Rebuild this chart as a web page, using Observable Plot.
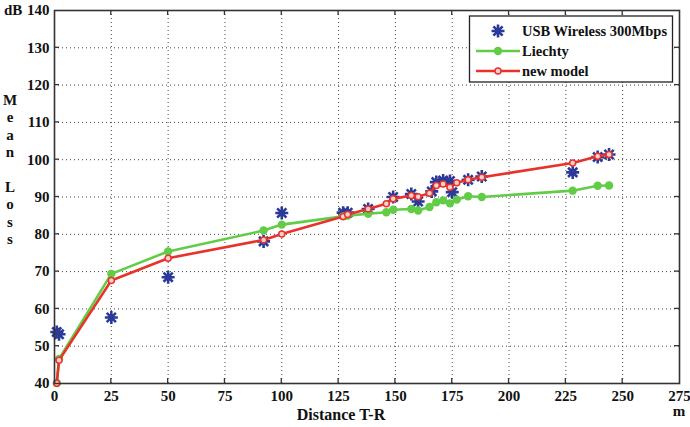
<!DOCTYPE html>
<html><head><meta charset="utf-8">
<script src="https://cdn.jsdelivr.net/npm/d3@7"></script>
<script src="https://cdn.jsdelivr.net/npm/@observablehq/plot@0.6"></script>
<style>body{margin:0;background:#fff}#chart{width:690px;height:427px}</style>
</head><body><div id="chart"></div>
<script>
// ---- data ----
const modelDistance = [1, 2, 25, 50, 92, 100, 127, 129, 138, 146, 149, 157, 160, 165, 168, 171, 174, 177, 182, 188, 228, 239, 244];
const liechtyLoss   = [40.1, 46.6, 69.4, 75.4, 81.0, 82.6, 84.8, 85.0, 85.5, 85.9, 86.6, 86.8, 86.4, 87.3, 88.6, 89.1, 88.3, 89.3, 90.2, 90.0, 91.7, 93.0, 93.1];
const newModelLoss  = [40.1, 46.2, 67.6, 73.6, 78.5, 80.1, 84.8, 85.3, 86.8, 88.2, 89.5, 90.4, 90.1, 91.0, 93.1, 93.5, 92.6, 93.8, 94.6, 95.3, 99.1, 100.9, 101.4];
const measuredDistance = [1, 2, 25, 50, 92, 100, 127, 129, 138, 149, 157, 160, 166, 168, 171, 174, 175, 182, 188, 228, 239, 244];
const measuredLoss     = [53.8, 53.2, 57.7, 68.5, 78.1, 85.7, 85.8, 85.8, 86.8, 90.0, 90.8, 88.8, 91.5, 94.0, 94.4, 94.3, 91.3, 94.6, 95.5, 96.6, 100.7, 101.4];
const xTicks = [0, 25, 50, 75, 100, 125, 150, 175, 200, 225, 250, 275];
const yTicks = [40, 50, 60, 70, 80, 90, 100, 110, 120, 130, 140];
const seriesNames = ["USB Wireless 300Mbps", "Liechty", "new model"];
const xLabel = "Distance T-R", xUnit = "m", yLabel = "Mean Loss", yUnit = "dB";

const blue = "#2b3a98", green = "#62cc47", red = "#e8322a";
const font = "Liberation Serif, Times New Roman, serif";

const model = modelDistance.map((d, i) => ({d, liechty: liechtyLoss[i], newModel: newModelLoss[i]}));
const measured = measuredDistance.map((d, i) => ({d, loss: measuredLoss[i]}));

const asterisk = {draw(ctx, size) {
  const r = Math.sqrt(size / Math.PI), q = r * Math.SQRT1_2;
  ctx.moveTo(-r, 0); ctx.lineTo(r, 0);
  ctx.moveTo(0, -r); ctx.lineTo(0, r);
  ctx.moveTo(-q, -q); ctx.lineTo(q, q);
  ctx.moveTo(-q, q); ctx.lineTo(q, -q);
}};

const gridStyle = {stroke: "#444", strokeOpacity: 1, strokeWidth: 1, strokeDasharray: "1,3"};

const plot = Plot.plot({
  width: 690, height: 427,
  marginLeft: 54, marginRight: 11, marginTop: 10, marginBottom: 44,
  style: {fontFamily: font, background: "white", overflow: "visible"},
  x: {domain: [0, 275]},
  y: {domain: [40, 140]},
  marks: [
    Plot.gridX(xTicks.slice(1, -1), gridStyle),
    Plot.gridY(yTicks.slice(1, -1), gridStyle),
    Plot.axisX(xTicks, {tickSize: 0, tickPadding: 7, fontSize: 15, fontWeight: "bold", fill: "#111", label: null, fontFamily: font}),
    Plot.axisY(yTicks, {tickSize: 0, tickPadding: 5, fontSize: 15, fontWeight: "bold", fill: "#111", label: null, fontFamily: font}),
    Plot.dot(measured, {x: "d", y: "loss", symbol: asterisk, r: 6.5, stroke: blue, strokeWidth: 2.6, fill: "none"}),
    Plot.line(model, {x: "d", y: "liechty", stroke: green, strokeWidth: 2.6}),
    Plot.dot(model, {x: "d", y: "liechty", r: 4.2, fill: green, stroke: "none"}),
    Plot.line(model, {x: "d", y: "newModel", stroke: red, strokeWidth: 2.6}),
    Plot.dot(model, {x: "d", y: "newModel", r: 3, stroke: red, strokeWidth: 1.5, fill: "#f6d2cf"}),
    Plot.frame({stroke: "#333", strokeWidth: 1.6})
  ]
});
document.getElementById("chart").appendChild(plot);

const svg = d3.select(plot);
const sx = plot.scale("x"), sy = plot.scale("y");
const X = v => sx.apply(v), Y = v => sy.apply(v);
const x0 = X(0), x1 = X(275), y0 = Y(40), y1 = Y(140);
const g = svg.append("g").attr("stroke", "#333").attr("stroke-width", 1.3);
for (const t of xTicks.slice(1, -1)) {
  g.append("line").attr("x1", X(t)).attr("x2", X(t)).attr("y1", y0).attr("y2", y0 - 5);
  g.append("line").attr("x1", X(t)).attr("x2", X(t)).attr("y1", y1).attr("y2", y1 + 5);
}
for (const t of yTicks.slice(1, -1)) {
  g.append("line").attr("x1", x0).attr("x2", x0 + 5).attr("y1", Y(t)).attr("y2", Y(t));
  g.append("line").attr("x1", x1).attr("x2", x1 - 5).attr("y1", Y(t)).attr("y2", Y(t));
}

const txt = svg.append("g").attr("font-family", font).attr("font-weight", "bold").attr("fill", "#111").attr("text-anchor", "start");
txt.append("text").attr("x", 4).attr("y", y1 + 5).attr("font-size", 15).text(yUnit);
txt.append("text").attr("x", x1).attr("y", 416).attr("font-size", 15).attr("text-anchor", "middle").text(xUnit);
txt.append("text").attr("x", 341).attr("y", 420).attr("font-size", 16).attr("text-anchor", "middle").text(xLabel);
const letters = yLabel.split("");
letters.forEach((c, i) => {
  if (c === " ") return;
  txt.append("text").attr("x", 10).attr("y", 105 + i * 17.4).attr("font-size", 15).attr("text-anchor", "middle").text(c);
});

// legend
const lg = svg.append("g");
lg.append("rect").attr("x", 469.5).attr("y", 16).attr("width", 203).attr("height", 66)
  .attr("fill", "white").attr("stroke", "#222").attr("stroke-width", 1.3);
const lt = lg.append("g").attr("font-family", font).attr("font-weight", "bold").attr("font-size", 14.5)
  .attr("fill", "#111").attr("text-anchor", "start");
const rows = [31, 51, 71];
rows.forEach((yy, i) => lt.append("text").attr("x", 522).attr("y", yy + 5).text(seriesNames[i]));
const ast = d3.path(); asterisk.draw(ast, 6.5 * 6.5 * Math.PI);
lg.append("path").attr("d", ast.toString()).attr("transform", `translate(498,${rows[0]})`)
  .attr("stroke", blue).attr("stroke-width", 2.6).attr("fill", "none");
lg.append("line").attr("x1", 476).attr("x2", 520).attr("y1", rows[1]).attr("y2", rows[1]).attr("stroke", green).attr("stroke-width", 2.6);
lg.append("circle").attr("cx", 498).attr("cy", rows[1]).attr("r", 4.2).attr("fill", green);
lg.append("line").attr("x1", 476).attr("x2", 520).attr("y1", rows[2]).attr("y2", rows[2]).attr("stroke", red).attr("stroke-width", 2.6);
lg.append("circle").attr("cx", 498).attr("cy", rows[2]).attr("r", 3).attr("fill", "#f6d2cf").attr("stroke", red).attr("stroke-width", 1.5);
</script>
</body></html>
